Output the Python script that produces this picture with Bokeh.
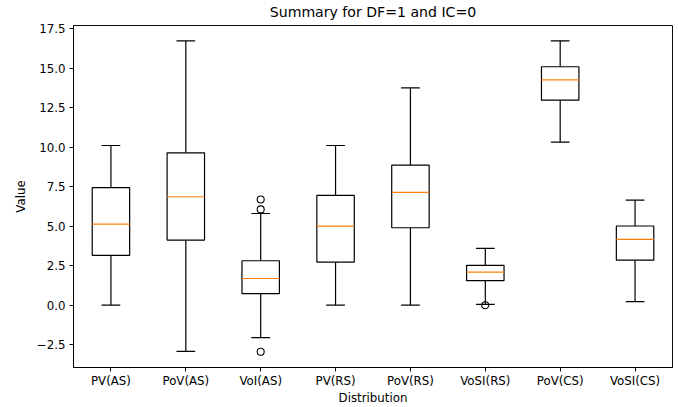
from bokeh.plotting import figure
from bokeh.models import Range1d, FixedTicker
from bokeh.embed import file_html
from bokeh.resources import INLINE

# Box statistics per distribution
categories = ["PV(AS)", "PoV(AS)", "VoI(AS)", "PV(RS)", "PoV(RS)", "VoSI(RS)", "PoV(CS)", "VoSI(CS)"]
whisker_low = [0.0, -2.92, -2.05, 0.0, 0.0, 0.05, 10.31, 0.22]
q1 = [3.15, 4.12, 0.73, 2.72, 4.90, 1.55, 12.97, 2.85]
median = [5.13, 6.86, 1.69, 5.00, 7.13, 2.09, 14.25, 4.16]
q3 = [7.43, 9.64, 2.81, 6.94, 8.86, 2.52, 15.08, 5.01]
whisker_high = [10.10, 16.72, 5.80, 10.10, 13.75, 3.59, 16.72, 6.64]

# Outlier points: (distribution, value)
outlier_cat = ["VoI(AS)", "VoI(AS)", "VoI(AS)", "VoSI(RS)"]
outlier_val = [6.69, 6.06, -2.94, 0.0]

y_ticks = [-2.5, 0.0, 2.5, 5.0, 7.5, 10.0, 12.5, 15.0, 17.5]

FONT = "DejaVu Sans"
pos = list(range(1, len(categories) + 1))
box_w = 0.25
cap_w = 0.125

p = figure(width=678, height=407, output_backend="svg", toolbar_location=None,
           x_range=Range1d(0.5, 8.5), y_range=Range1d(-3.94, 17.69),
           title="Summary for DF=1 and IC=0",
           min_border_left=73, min_border_right=6, min_border_top=25, min_border_bottom=39)

p.background_fill_color = "white"
p.border_fill_color = "white"
p.outline_line_color = "black"
p.outline_line_width = 0.95
p.xgrid.visible = False
p.ygrid.visible = False

p.title.align = "center"
p.title.vertical_align = "top"
p.title.text_font = FONT
p.title.text_font_size = "14.1px"
p.title.text_font_style = "normal"
p.title.text_color = "black"
p.title.standoff = 7

for ax in (p.xaxis[0], p.yaxis[0]):
    ax.axis_line_color = "black"
    ax.axis_line_width = 0.95
    ax.major_tick_line_color = "black"
    ax.major_tick_line_width = 0.95
    ax.major_tick_out = 4
    ax.major_tick_in = 0
    ax.minor_tick_line_color = None
    ax.major_label_text_font = FONT
    ax.major_label_text_font_size = "11.8px"
    ax.major_label_text_color = "black"
    ax.axis_label_text_font = FONT
    ax.axis_label_text_font_size = "11.8px"
    ax.axis_label_text_font_style = "normal"
    ax.axis_label_text_color = "black"
    ax.major_label_standoff = 4

p.xaxis.ticker = FixedTicker(ticks=pos)
p.xaxis.major_label_overrides = {i: c for i, c in zip(pos, categories)}
p.xaxis.axis_label = "Distribution"
p.xaxis.major_label_standoff = 2
p.xaxis.axis_label_standoff = 0

p.yaxis.ticker = FixedTicker(ticks=y_ticks)
p.yaxis.major_label_overrides = {t: f"{t:.1f}".replace("-", "\u2212") for t in y_ticks}
p.yaxis.axis_label = "Value"
p.yaxis.axis_label_standoff = 6

lw = 1.2

# Whiskers
p.segment(x0=pos, y0=q1, x1=pos, y1=whisker_low, line_color="black", line_width=lw)
p.segment(x0=pos, y0=q3, x1=pos, y1=whisker_high, line_color="black", line_width=lw)
# Caps
p.segment(x0=[x - cap_w for x in pos], y0=whisker_low, x1=[x + cap_w for x in pos], y1=whisker_low,
          line_color="black", line_width=lw)
p.segment(x0=[x - cap_w for x in pos], y0=whisker_high, x1=[x + cap_w for x in pos], y1=whisker_high,
          line_color="black", line_width=lw)
# Boxes
p.quad(left=[x - box_w for x in pos], right=[x + box_w for x in pos], bottom=q1, top=q3,
       fill_color="white", line_color="black", line_width=lw)
# Medians
p.segment(x0=[x - box_w for x in pos], y0=median, x1=[x + box_w for x in pos], y1=median,
          line_color="#ff7f0e", line_width=lw)
# Outliers
out_x = [pos[categories.index(c)] for c in outlier_cat]
p.scatter(x=out_x, y=outlier_val, marker="circle", size=7, fill_color=None,
          line_color="black", line_width=1.1)

open("out.html", "w").write(file_html(p, INLINE))
